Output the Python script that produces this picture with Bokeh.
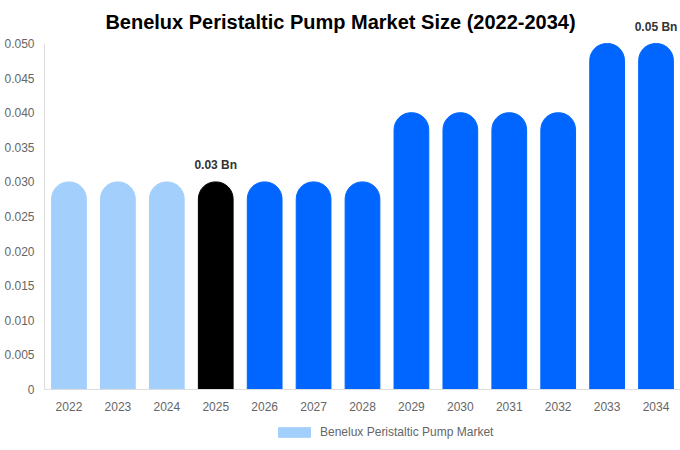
from bokeh.plotting import figure
from bokeh.layouts import column
from bokeh.models import (ColumnDataSource, FixedTicker, PrintfTickFormatter, Legend,
                          LegendItem, Label)
from bokeh.embed import file_html
from bokeh.resources import INLINE

years = [str(y) for y in range(2022, 2035)]
values = [0.03, 0.03, 0.03, 0.03, 0.03, 0.03, 0.03, 0.04, 0.04, 0.04, 0.04, 0.05, 0.05]
colors = ["#a3cffd"] * 3 + ["#000000"] + ["#0066ff"] * 9
labeled_years = ["2025", "2034"]
y_ticks = [0, 0.005, 0.01, 0.015, 0.02, 0.025, 0.03, 0.035, 0.04, 0.045, 0.05]
series_name = "Benelux Peristaltic Pump Market"
title_text = "Benelux Peristaltic Pump Market Size (2022-2034)"

FONT = "Liberation Sans"
Y_MAX = max(y_ticks)
Y_END = Y_MAX * 389 / 346   # head-room above the top tick for title and labels

src = ColumnDataSource(dict(x=years, top=values, color=colors))

p = figure(x_range=years, y_range=(0, Y_END), width=680, height=422,
           output_backend="svg", toolbar_location=None,
           min_border_left=44, min_border_right=0, min_border_top=0, min_border_bottom=33)
p.title = None

r = p.vbar(x="x", top="top", width=0.71, color="color", source=src,
           border_radius=(17, 17, 0, 0))

p.xgrid.visible = False
p.ygrid.visible = False
p.outline_line_color = None
p.background_fill_color = "white"
p.border_fill_color = "white"

for ax in (p.xaxis[0], p.yaxis[0]):
    ax.axis_line_color = "#dddddd"
    ax.major_tick_line_color = None
    ax.minor_tick_line_color = None
    ax.major_label_text_color = "#666666"
    ax.major_label_text_font = FONT
    ax.major_label_text_font_size = "12px"

p.yaxis[0].ticker = FixedTicker(ticks=y_ticks)
p.yaxis[0].formatter = PrintfTickFormatter(format="%.3f")
p.yaxis[0].major_label_overrides = {0: "0"}
p.yaxis[0].major_label_standoff = 4
p.yaxis[0].bounds = (0, Y_MAX)
p.xaxis[0].major_label_standoff = 6

# chart title (inside the frame, centred on the page)
p.add_layout(Label(x=len(years) / 2, y=Y_END, text=title_text, text_align="center",
                   text_baseline="middle", x_offset=-22, y_offset=-21, text_font=FONT,
                   text_font_size="20px", text_font_style="bold", text_color="#000000"))

for yr in labeled_years:
    i = years.index(yr)
    v = values[i]
    # categorical factor i sits at synthetic coordinate i + 0.5
    p.add_layout(Label(x=i + 0.5, y=v, text=f"{v:.2f} Bn", text_align="center",
                       text_baseline="bottom", y_offset=10, text_font=FONT,
                       text_font_size="12px", text_font_style="bold", text_color="#333333"))

# legend strip below the chart: same bars, kept out of view, supply the swatch
p2 = figure(width=680, height=22, x_range=years, y_range=(1, 2),
            output_backend="svg", toolbar_location=None,
            x_axis_location=None, y_axis_location=None,
            min_border_left=0, min_border_right=0, min_border_top=0, min_border_bottom=0)
p2.grid.visible = False
p2.outline_line_color = None
p2.border_fill_color = "white"
p2.background_fill_color = "white"
swatch = p2.vbar(x="x", top="top", width=0.71, color="color", source=src)
legend = Legend(items=[LegendItem(label=series_name, renderers=[swatch], index=0)],
                orientation="horizontal", location=(230, 5),
                label_text_font=FONT, label_text_font_size="12px", label_text_color="#666666",
                glyph_width=40, glyph_height=12, border_line_color=None,
                background_fill_alpha=0, padding=0, margin=0, label_standoff=6)
p2.add_layout(legend, "center")

layout = column(p, p2, spacing=0)
open("out.html", "w").write(file_html(layout, INLINE))
